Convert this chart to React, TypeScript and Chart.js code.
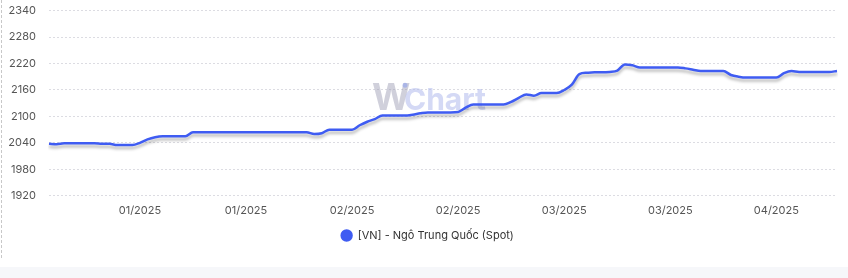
import React, { useEffect, useRef } from "react";
import { Chart, registerables } from "chart.js";

Chart.register(...registerables);

const dates: string[] = [
  "2024-12-29", "2024-12-30", "2024-12-31",
  "2025-01-01", "2025-01-02", "2025-01-03", "2025-01-04", "2025-01-05", "2025-01-06", "2025-01-07", "2025-01-08", "2025-01-09", "2025-01-10",
  "2025-01-11", "2025-01-12", "2025-01-13", "2025-01-14", "2025-01-15", "2025-01-16", "2025-01-17", "2025-01-18", "2025-01-19", "2025-01-20",
  "2025-01-21", "2025-01-22", "2025-01-23", "2025-01-24", "2025-01-25", "2025-01-26", "2025-01-27", "2025-01-28", "2025-01-29", "2025-01-30", "2025-01-31",
  "2025-02-01", "2025-02-02", "2025-02-03", "2025-02-04", "2025-02-05", "2025-02-06", "2025-02-07", "2025-02-08", "2025-02-09", "2025-02-10",
  "2025-02-11", "2025-02-12", "2025-02-13", "2025-02-14", "2025-02-15", "2025-02-16", "2025-02-17", "2025-02-18", "2025-02-19", "2025-02-20",
  "2025-02-21", "2025-02-22", "2025-02-23", "2025-02-24", "2025-02-25", "2025-02-26", "2025-02-27", "2025-02-28",
  "2025-03-01", "2025-03-02", "2025-03-03", "2025-03-04", "2025-03-05", "2025-03-06", "2025-03-07", "2025-03-08", "2025-03-09", "2025-03-10",
  "2025-03-11", "2025-03-12", "2025-03-13", "2025-03-14", "2025-03-15", "2025-03-16", "2025-03-17", "2025-03-18", "2025-03-19", "2025-03-20",
  "2025-03-21", "2025-03-22", "2025-03-23", "2025-03-24", "2025-03-25", "2025-03-26", "2025-03-27", "2025-03-28", "2025-03-29", "2025-03-30", "2025-03-31",
  "2025-04-01", "2025-04-02", "2025-04-03", "2025-04-04", "2025-04-05", "2025-04-06", "2025-04-07", "2025-04-08", "2025-04-09", "2025-04-10",
  "2025-04-11", "2025-04-12",
];

const prices: number[] = [
  2038, 2037, 2039, 2039, 2039, 2039, 2039, 2038, 2038, 2035,
  2035, 2035, 2040, 2048, 2053, 2055, 2055, 2055, 2055, 2064,
  2064, 2064, 2064, 2064, 2064, 2064, 2064, 2064, 2064, 2064,
  2064, 2064, 2064, 2064, 2064, 2060, 2062, 2070, 2070, 2070,
  2070, 2080, 2088, 2094, 2102, 2102, 2102, 2102, 2104, 2107,
  2109, 2109, 2109, 2109, 2110, 2120, 2127, 2127, 2127, 2127,
  2127, 2133, 2142, 2150, 2147, 2153, 2153, 2153, 2160, 2172,
  2196, 2199, 2200, 2200, 2201, 2204, 2218, 2216, 2211, 2211,
  2211, 2211, 2211, 2211, 2209, 2206, 2203, 2203, 2203, 2203,
  2194, 2190, 2188, 2188, 2188, 2188, 2188, 2198, 2203, 2201,
  2201, 2201, 2201, 2201, 2203,
];

const tickIndexes: number[] = [12, 26, 40, 54, 68, 82, 96];
const yTicks: number[] = [1920, 1980, 2040, 2100, 2160, 2220, 2280, 2340];
const seriesName = "[VN] - Ngô Trung Quốc (Spot)";
const LINE_COLOR = "#3f5cf2";
const FONT = "Inter, 'Noto Sans', sans-serif";

function fmtMonth(d: string): string {
  const [y, m] = d.split("-");
  return `${m}/${y}`;
}

const shadowPlugin = {
  id: "lineShadow",
  beforeDatasetDraw(chart: any) {
    const ctx = chart.ctx;
    ctx.save();
    ctx.shadowColor = "rgba(0,0,0,0.28)";
    ctx.shadowBlur = 3;
    ctx.shadowOffsetX = 0;
    ctx.shadowOffsetY = 3;
  },
  afterDatasetDraw(chart: any) {
    chart.ctx.restore();
  },
};

const legendShiftPlugin = {
  id: "legendShift",
  afterLayout(chart: any) {
    if (chart.legend) {
      chart.legend.left += 9;
      chart.legend.right += 9;
    }
  },
};

const watermarkPlugin = {
  id: "watermark",
  beforeDatasetsDraw(chart: any) {
    const { ctx, chartArea } = chart;
    const cx = (chartArea.left + chartArea.right) / 2;
    const cy = (chartArea.top + chartArea.bottom) / 2;
    ctx.save();
    ctx.textBaseline = "alphabetic";
    ctx.textAlign = "left";
    ctx.font = `bold 37px ${FONT}`;
    ctx.fillStyle = "rgba(150,150,175,0.45)";
    const wx = cx - 71;
    const by = cy + 7;
    ctx.fillText("W", wx, by);
    ctx.font = `bold 30px ${FONT}`;
    ctx.fillStyle = "rgba(170,180,235,0.5)";
    ctx.fillText("Chart", wx + 32, by);
    ctx.beginPath();
    ctx.arc(wx + 33, by - 25, 2.5, 0, Math.PI * 2);
    ctx.fillStyle = "rgba(140,160,240,0.55)";
    ctx.fill();
    ctx.restore();
  },
};

export default function App() {
  const ref = useRef<HTMLCanvasElement | null>(null);

  useEffect(() => {
    if (!ref.current) return;
    const chart = new Chart(ref.current, {
      type: "line",
      data: {
        labels: dates,
        datasets: [
          {
            label: seriesName,
            data: prices,
            borderColor: LINE_COLOR,
            backgroundColor: LINE_COLOR,
            borderWidth: 2.5,
            pointRadius: 0,
            pointHoverRadius: 0,
            tension: 0.35,
            cubicInterpolationMode: "monotone",
            fill: false,
          },
        ],
      },
      options: {
        animation: false,
        responsive: true,
        maintainAspectRatio: false,
        layout: { padding: { top: 4, right: 11, left: 0, bottom: 0 } },
        plugins: {
          tooltip: { enabled: false },
          legend: {
            position: "bottom",
            labels: {
              usePointStyle: true,
              pointStyle: "circle",
              boxWidth: 11,
              boxHeight: 7,
              padding: 5,
              color: "#333",
              font: { family: FONT, size: 11 },
            },
          },
        },
        scales: {
          x: {
            grid: { display: false, drawTicks: false },
            border: { display: false },
            ticks: {
              autoSkip: false,
              maxRotation: 0,
              minRotation: 0,
              padding: 8,
              color: "#555",
              font: { family: FONT, size: 11 },
              callback: (_v: any, i: number) =>
                tickIndexes.includes(i) ? fmtMonth(dates[i]) : "",
            },
          },
          y: {
            min: yTicks[0],
            max: yTicks[yTicks.length - 1],
            afterBuildTicks: (scale: any) => {
              scale.ticks = yTicks.map((v) => ({ value: v }));
            },
            afterFit: (scale: any) => {
              scale.width = 49;
            },
            grid: {
              color: "#dcdce2",
              lineWidth: 1,
              drawTicks: false,
            },
            border: { display: false, dash: [2, 2] },
            ticks: {
              padding: 13,
              color: "#555",
              font: { family: FONT, size: 11 },
              callback: (v: any) => String(v),
            },
          },
        },
      } as any,
      plugins: [shadowPlugin, watermarkPlugin, legendShiftPlugin],
    });
    return () => chart.destroy();
  }, []);

  return (
    <div style={{ position: "fixed", left: 0, top: 0, width: 848, height: 278, background: "#f6f7fa", overflow: "hidden" }}>
      <div style={{ position: "absolute", left: 0, top: 0, width: 848, height: 267, background: "#fff" }} />
      <div style={{ position: "absolute", left: 1, top: 0, width: 0, height: 258, borderLeft: "1px dashed #c8c8c8" }} />
      <div style={{ position: "absolute", left: 0, top: -9, width: 848, height: 260 }}>
        <canvas ref={ref} />
      </div>
    </div>
  );
}
